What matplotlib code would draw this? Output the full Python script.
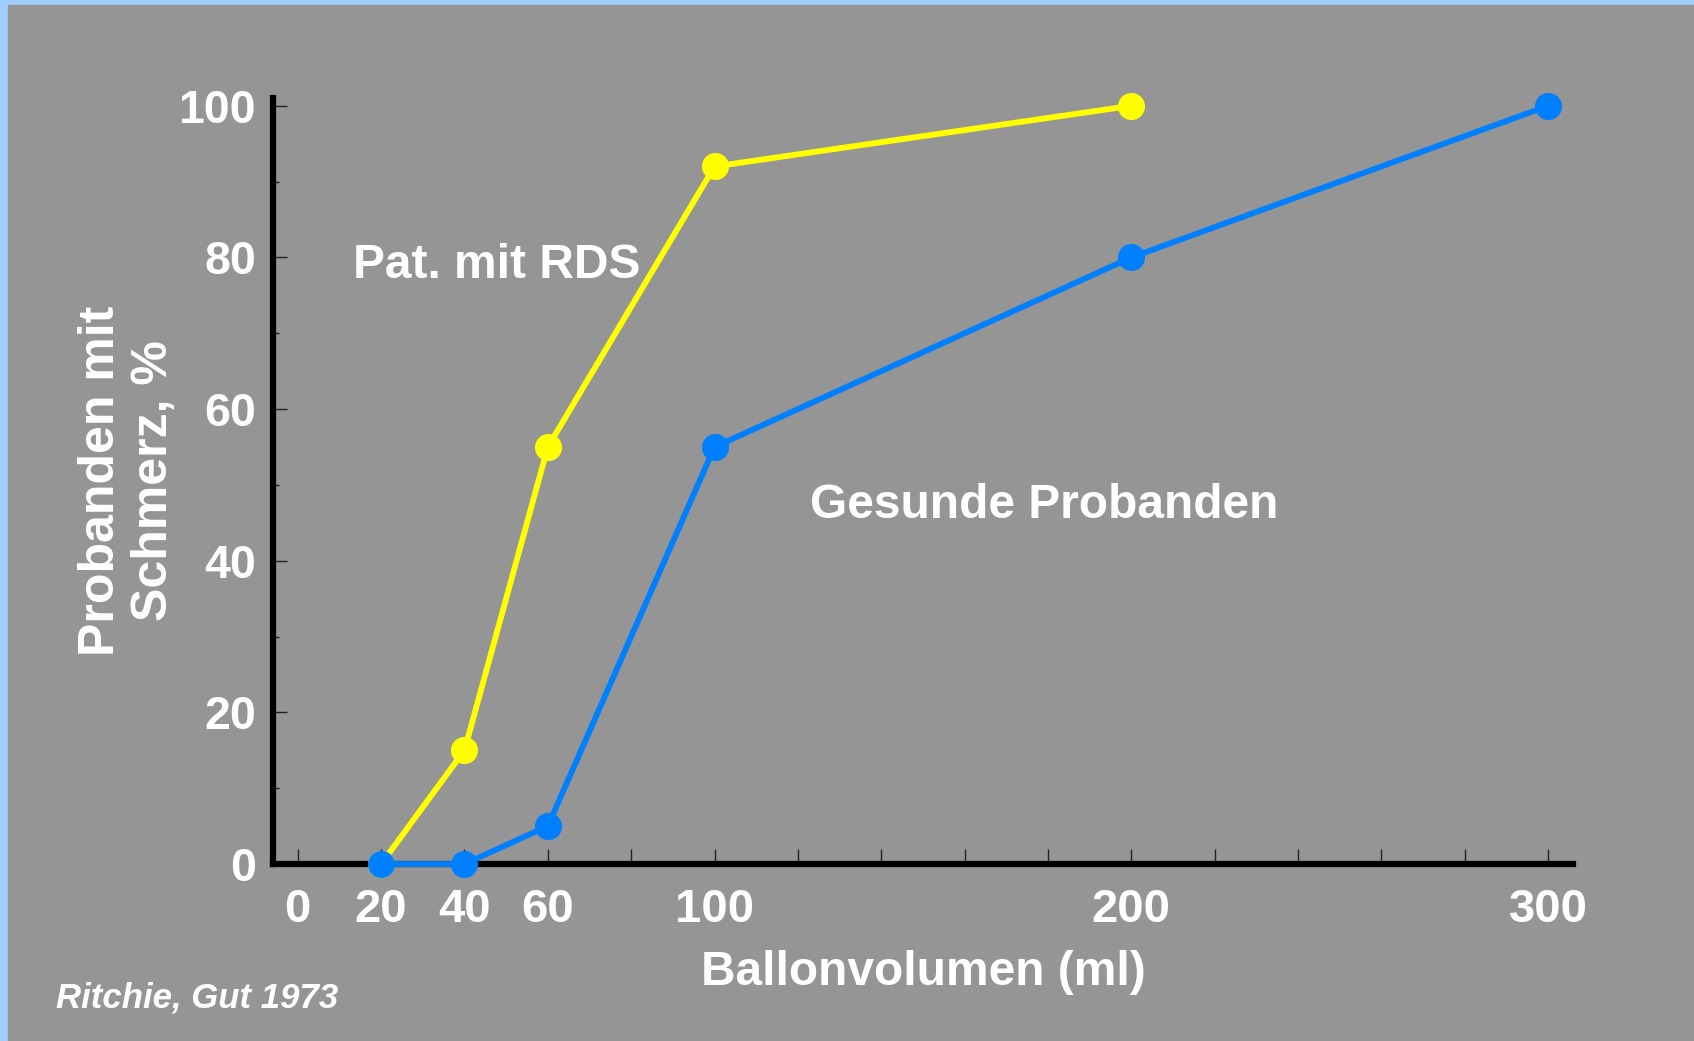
import matplotlib.pyplot as plt
from matplotlib.ticker import FixedLocator, MultipleLocator

# data
volume_rds = [20, 40, 60, 100, 200]
pain_rds = [0, 15, 55, 92, 100]
volume_healthy = [20, 40, 60, 100, 200, 300]
pain_healthy = [0, 0, 5, 55, 80, 100]
x_labels = [0, 20, 40, 60, 100, 200, 300]
y_labels = [0, 20, 40, 60, 80, 100]

BG = "#959595"
EDGE = "#9fcdfd"
YELLOW = "#ffff00"
BLUE = "#0080ff"

plt.rcParams["font.family"] = ["Liberation Sans", "DejaVu Sans"]

fig = plt.figure(figsize=(16.94, 10.41), dpi=100)
fig.patch.set_facecolor(EDGE)
# grey slide area inside the light blue border
fig.patches.append(plt.Rectangle((8 / 1694, 0), 1, 1 - 5 / 1041,
                                 transform=fig.transFigure, color=BG, zorder=-10))

ax = fig.add_axes([0.161, 0.170, 0.9286 - 0.161, 0.906 - 0.170])
ax.set_facecolor("none")

ax.plot(volume_rds, pain_rds, color=YELLOW, lw=4.2, marker="o", ms=18.5,
        clip_on=False, zorder=5)
ax.plot(volume_healthy, pain_healthy, color=BLUE, lw=4.2, marker="o", ms=18.5,
        clip_on=False, zorder=6)

ax.set_xlim(-6, 306)
ax.set_ylim(0, 101.05)

for side in ("top", "right"):
    ax.spines[side].set_visible(False)
for side in ("left", "bottom"):
    ax.spines[side].set_linewidth(4.5)
    ax.spines[side].set_color("black")

# x: ticks every 20, labels only at selected volumes
ax.xaxis.set_major_locator(FixedLocator(x_labels))
ax.xaxis.set_minor_locator(MultipleLocator(20))
ax.set_xticklabels([str(v) for v in x_labels])
ax.tick_params(axis="x", which="both", direction="in", length=11, width=1,
               color="#222222", pad=17, labelsize=34, labelcolor="white")

ax.yaxis.set_major_locator(FixedLocator(y_labels))
ax.yaxis.set_minor_locator(MultipleLocator(10))
ax.tick_params(axis="y", which="major", direction="in", length=10, width=1,
               color="#222222", pad=12, labelsize=33.5, labelcolor="white")
ax.tick_params(axis="y", which="minor", direction="in", length=4.5, width=1,
               color="#222222")
for lbl in ax.get_xticklabels() + ax.get_yticklabels():
    lbl.set_fontweight("bold")

ax.set_xlabel("Ballonvolumen (ml)", fontsize=34.5, fontweight="bold",
              color="white", labelpad=13)
ax.set_ylabel("Probanden mit\nSchmerz, %", fontsize=36, fontweight="bold",
              color="white", labelpad=1, linespacing=1.2)

ax.text(13.2, 78.9, "Pat. mit RDS", fontsize=34.5, fontweight="bold",
        color="white", va="center", ha="left")
ax.text(123, 47.3, "Gesunde Probanden", fontsize=34.5, fontweight="bold",
        color="white", va="center", ha="left")

fig.text(0.033, 0.041, "Ritchie, Gut 1973", fontsize=25, fontweight="bold",
         fontstyle="italic", color="white", va="center", ha="left")

fig.savefig("out.png", dpi=100, facecolor=fig.get_facecolor())
